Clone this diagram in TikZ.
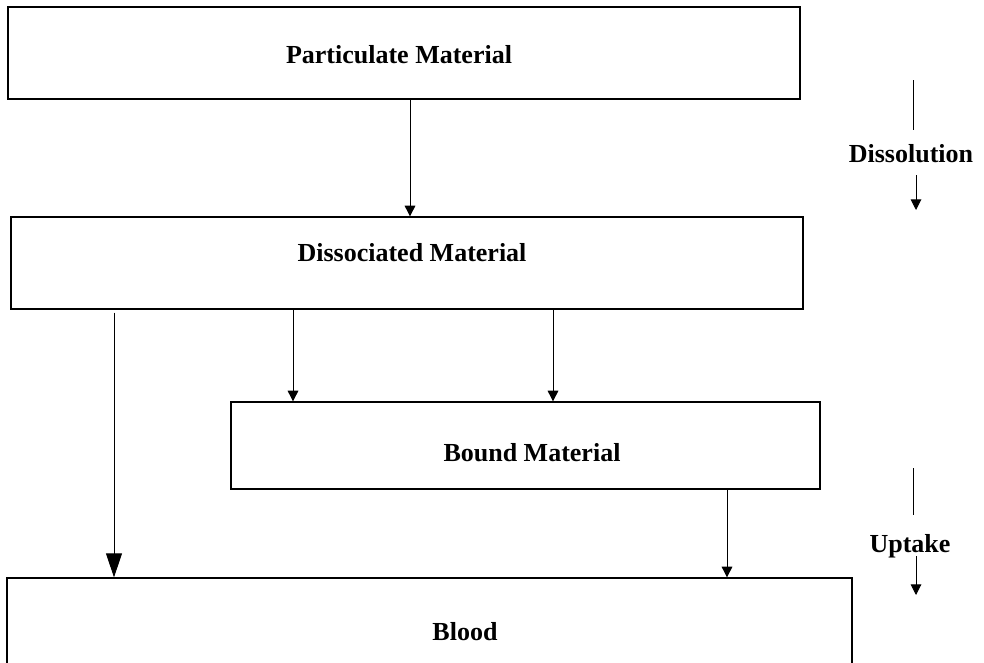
\documentclass[tikz,border=0pt]{standalone}
\usepackage{fontspec}
\setmainfont{Liberation Serif}
\usetikzlibrary{arrows.meta}
\begin{document}
\begin{tikzpicture}[x=0.75pt,y=-0.75pt,
  box/.style={draw=black,line width=1pt,inner sep=0pt},
  txt/.style={font=\bfseries\fontsize{19.5}{22}\selectfont,inner sep=0pt},
  arr/.style={line width=0.7pt,-{Triangle[width=8pt,length=8pt]}},
  bigarr/.style={line width=0.7pt,-{Triangle[width=12pt,length=18pt]}}]
\useasboundingbox (0,0) rectangle (984,662);
\node[box,minimum width=594pt,minimum height=69pt] (part) at (404,53) {};
\node[box,minimum width=594pt,minimum height=69pt] (diss) at (407,263) {};
\node[box,minimum width=441.75pt,minimum height=65.25pt] (bound) at (525.5,445.5) {};
\node[box,minimum width=633.75pt,minimum height=64.5pt] (blood) at (429.5,621) {};
\node[txt] (partlbl) at (399,55) {Particulate Material};
\node[txt] (disslbl) at (412,253) {Dissociated Material};
\node[txt] (boundlbl) at (532,453) {Bound Material};
\node[txt] (bloodlbl) at (465,632) {Blood};
\draw[arr] (part.south -| 410,0) -- (diss.north -| 410,0);
\draw[bigarr] ([yshift=-2.25pt]diss.south -| 114,0) -- (blood.north -| 114,0);
\draw[arr] (diss.south -| 293,0) -- (bound.north -| 293,0);
\draw[arr] (diss.south -| 553,0) -- (bound.north -| 553,0);
\draw[arr] (bound.south -| 727,0) -- (blood.north -| 727,0);
% process labels on the right
\node[txt] (dissolution) at (911,154) {Dissolution};
\coordinate (d1) at (913,80);
\coordinate (d2) at (913,130);
\coordinate (d3) at (916,175);
\coordinate (d4) at (916,210);
\draw[line width=0.7pt] (d1) -- (d2);
\draw[arr] (d3) -- (d4);
\node[txt] (uptake) at (910,546) {Uptake};
\coordinate (u1) at (913,468);
\coordinate (u2) at (913,515);
\coordinate (u3) at (916,556);
\coordinate (u4) at (916,595);
\draw[line width=0.7pt] (u1) -- (u2);
\draw[arr] (u3) -- (u4);
\end{tikzpicture}
\end{document}
